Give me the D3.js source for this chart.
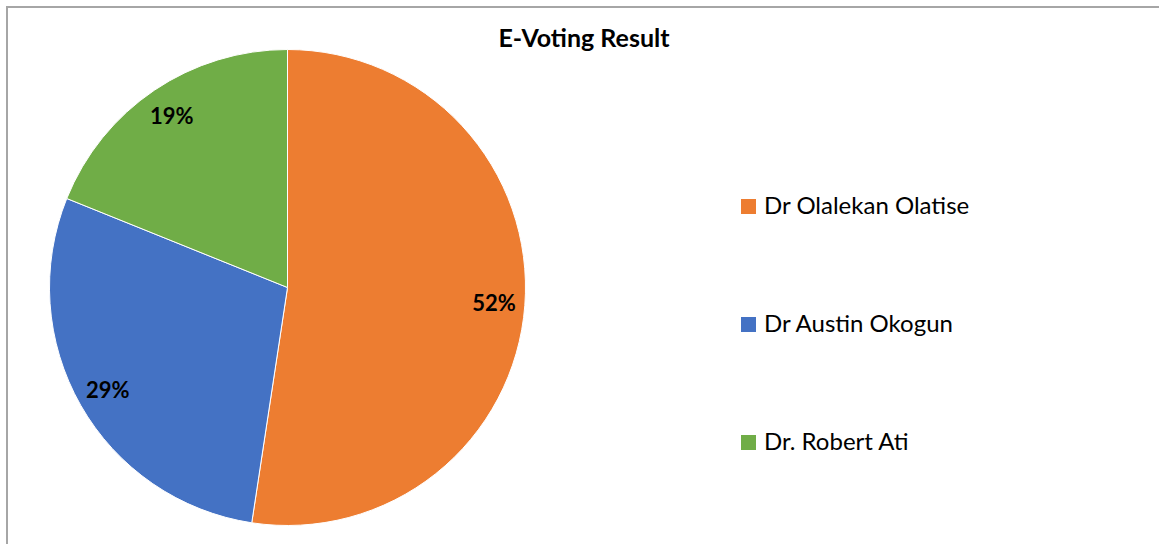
<!DOCTYPE html>
<html>
<head>
<meta charset="utf-8">
<script src="https://cdn.jsdelivr.net/npm/d3@7"></script>
<style>
    html, body { margin: 0; padding: 0; background: #fff; }
    #viz { width: 1159px; height: 544px; }
</style>
</head>
<body>
<div id="viz"></div>
<script>
//Datos
const CANDIDATES = ['Dr Olalekan Olatise', 'Dr Austin Okogun', 'Dr. Robert Ati'];
const SHARES = [52.4, 28.7, 18.9];
const COLORS = ['#ED7D31', '#4472C4', '#70AD47'];
const TITLE = 'E-Voting Result';

let data = CANDIDATES.map(function(c, i) { return { name: c, value: SHARES[i] }; });

let width = 1159, height = 544;

let svg = d3.select('#viz')
    .append('svg')
        .attr('width', width)
        .attr('height', height)
        .style('font-family', 'Lato, "Open Sans", sans-serif');

//Borde del gráfico
svg.append('rect')
    .attr('x', 7)
    .attr('y', 7)
    .attr('width', 1200)
    .attr('height', 600)
    .attr('fill', '#fff')
    .attr('stroke', '#A6A6A6')
    .attr('stroke-width', 2);

//Título
svg.append('text')
    .attr('x', 584)
    .attr('y', 47)
    .attr('text-anchor', 'middle')
    .style('font-size', '25px')
    .style('font-weight', 'bold')
    .attr('fill', '#000')
    .text(TITLE);

//Tarta
let cx = 287.5, cy = 287.5, radius = 238;

let pie = d3.pie()
    .sort(null)
    .value(function(d) { return d.value; });

let arc = d3.arc()
    .innerRadius(0)
    .outerRadius(radius);

let labelArc = d3.arc()
    .innerRadius(207)
    .outerRadius(207);

let color = d3.scaleOrdinal()
    .domain(CANDIDATES)
    .range(COLORS);

let g = svg.append('g')
    .attr('transform', 'translate(' + cx + ',' + cy + ')');

let arcs = pie(data);
let total = d3.sum(SHARES);

g.selectAll('path')
    .data(arcs)
    .enter()
    .append('path')
    .attr('d', arc)
    .attr('fill', function(d) { return color(d.data.name); })
    .attr('stroke', '#fff')
    .attr('stroke-width', 1);

g.selectAll('.label')
    .data(arcs)
    .enter()
    .append('text')
    .attr('class', 'label')
    .attr('transform', function(d) { return 'translate(' + labelArc.centroid(d) + ')'; })
    .attr('text-anchor', 'middle')
    .attr('dy', '0.36em')
    .style('font-size', '22px')
    .style('font-weight', 'bold')
    .attr('fill', '#000')
    .text(function(d) { return Math.round(d.data.value / total * 100) + '%'; });

//Leyenda
let legend = svg.append('g')
    .attr('transform', 'translate(741,199)');

let items = legend.selectAll('g')
    .data(CANDIDATES)
    .enter()
    .append('g')
    .attr('transform', function(d, i) { return 'translate(0,' + (i * 118) + ')'; });

items.append('rect')
    .attr('width', 15)
    .attr('height', 15)
    .attr('fill', function(d) { return color(d); });

items.append('text')
    .attr('x', 23)
    .attr('y', 15)
    .style('font-size', '24px')
    .attr('fill', '#000')
    .text(function(d) { return d; });
</script>
</body>
</html>
